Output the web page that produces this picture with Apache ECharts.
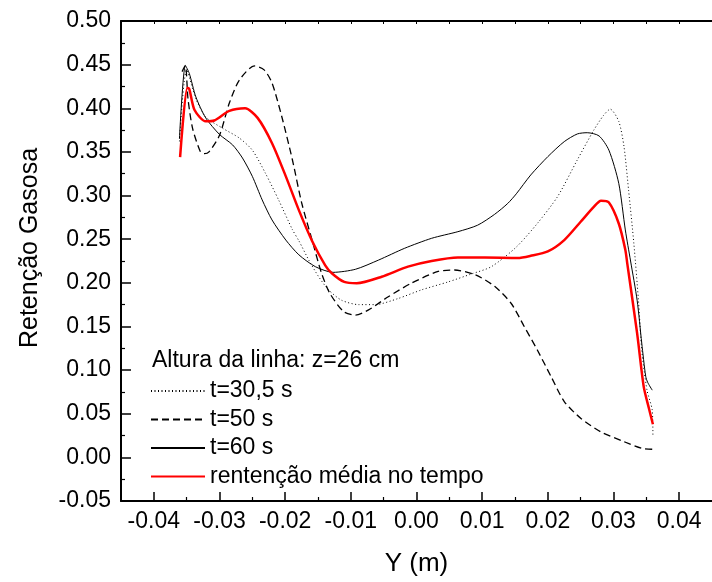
<!DOCTYPE html>
<html>
<head>
<meta charset="utf-8">
<script src="https://cdn.jsdelivr.net/npm/echarts@6/dist/echarts.min.js"></script>
<style>html,body{margin:0;padding:0;background:#fff}#c{width:712px;height:582px}</style>
</head>
<body>
<div id="c"></div>
<script>
const seriesNames = ['t=30,5 s', 't=50 s', 't=60 s', 'rentenção média no tempo'];
const legendTitle = 'Altura da linha: z=26 cm';
const xTickValues = [-0.04, -0.03, -0.02, -0.01, 0.00, 0.01, 0.02, 0.03, 0.04];
const xMinorTickValues = [-0.035, -0.025, -0.015, -0.005, 0.005, 0.015, 0.025, 0.035];

const t305X = [-0.0361,-0.0350,-0.0336,-0.0321,-0.0295,-0.0270,-0.0250,-0.0230,-0.0210,-0.0189,-0.0179,-0.0164,-0.0149,-0.0134,-0.0114,-0.0088,-0.0063,-0.0028,0.0008,0.0048,0.0083,0.0114,0.0152,0.0184,0.0215,0.0245,0.0270,0.0285,0.0295,0.0308,0.0316,0.0323,0.0331,0.0338,0.0343,0.0351,0.0359,0.0360];
const t305Y = [0.362,0.444,0.411,0.390,0.377,0.366,0.352,0.3255,0.295,0.261,0.248,0.226,0.207,0.192,0.180,0.175,0.175,0.182,0.192,0.201,0.210,0.2185,0.241,0.268,0.299,0.341,0.375,0.392,0.399,0.385,0.356,0.306,0.245,0.180,0.123,0.077,0.054,0.026];

const t50X = [-0.0357,-0.0352,-0.0348,-0.0341,-0.0329,-0.0323,-0.0316,-0.0300,-0.0285,-0.0270,-0.0247,-0.0232,-0.0220,-0.0205,-0.0189,-0.0175,-0.0159,-0.0145,-0.0132,-0.0111,-0.0093,-0.0073,-0.0043,-0.0008,0.0033,0.0058,0.0090,0.0119,0.0144,0.0164,0.0184,0.0205,0.0225,0.0250,0.0280,0.0316,0.0343,0.0359];
const t50Y = [0.442,0.449,0.411,0.377,0.350,0.348,0.350,0.369,0.406,0.432,0.4485,0.444,0.429,0.390,0.341,0.292,0.249,0.212,0.188,0.167,0.163,0.169,0.184,0.1995,0.213,0.2147,0.209,0.196,0.1766,0.150,0.123,0.0925,0.064,0.0448,0.0295,0.018,0.0104,0.0093];

const t60X = [-0.0361,-0.0352,-0.0346,-0.0336,-0.0321,-0.0300,-0.0280,-0.0265,-0.0250,-0.0235,-0.0220,-0.0199,-0.0179,-0.0154,-0.0127,-0.0093,-0.0058,-0.0018,0.0023,0.0063,0.0093,0.0119,0.0139,0.0152,0.0174,0.0200,0.0225,0.0245,0.0260,0.0278,0.0293,0.0308,0.0318,0.0326,0.0336,0.0343,0.0349,0.0352,0.0359];
const t60Y = [0.365,0.449,0.440,0.413,0.389,0.370,0.358,0.343,0.322,0.295,0.272,0.249,0.232,0.2185,0.212,0.2155,0.226,0.2396,0.251,0.2586,0.266,0.2785,0.291,0.302,0.3236,0.3446,0.3618,0.3706,0.372,0.3683,0.352,0.314,0.2606,0.225,0.180,0.131,0.093,0.086,0.077];

const avgX = [-0.0360,-0.0349,-0.0346,-0.0338,-0.0321,-0.0308,-0.0285,-0.0261,-0.0242,-0.0220,-0.0199,-0.0179,-0.0159,-0.0139,-0.0129,-0.0110,-0.0091,-0.0053,-0.0013,0.0023,0.0063,0.0104,0.0154,0.0174,0.0200,0.0225,0.0250,0.0270,0.0281,0.0293,0.0308,0.0318,0.0321,0.0336,0.0346,0.0354,0.0360];
const avgY = [0.344,0.4236,0.422,0.398,0.385,0.386,0.397,0.400,0.389,0.360,0.322,0.283,0.248,0.220,0.211,0.201,0.1995,0.207,0.2185,0.225,0.229,0.229,0.2285,0.231,0.236,0.249,0.270,0.287,0.294,0.292,0.268,0.238,0.222,0.142,0.081,0.056,0.038];

function zip(xs, ys) { return xs.map((x, i) => [x, ys[i]]); }

const FONT = 'Liberation Sans, Arial, sans-serif';
const chart = echarts.init(document.getElementById('c'), null, {renderer: 'canvas'});
const fmt2 = v => (Math.abs(v) < 1e-9 ? 0 : v).toFixed(2);

chart.setOption({
  animation: false,
  backgroundColor: '#fff',
  grid: {left: 121, top: 21, width: 594, height: 480, containLabel: false},
  xAxis: [
    {
      type: 'value', position: 'bottom', min: -0.045, max: 0.045,
      name: 'Y (m)', nameLocation: 'middle', nameGap: 50,
      nameTextStyle: {fontFamily: FONT, fontSize: 26, color: '#000'},
      axisLine: {show: true, onZero: false, lineStyle: {color: '#000', width: 2}},
      axisTick: {show: true, inside: true, length: 9, customValues: xTickValues, lineStyle: {color: '#000', width: 1.5}},
      axisLabel: {show: true, customValues: xTickValues, formatter: fmt2, margin: 9, fontFamily: FONT, fontSize: 23, color: '#000'},
      splitLine: {show: false}
    },
    {
      type: 'value', position: 'bottom', min: -0.045, max: 0.045,
      axisLine: {show: false, onZero: false},
      axisTick: {show: true, inside: true, length: 4, customValues: xMinorTickValues, lineStyle: {color: '#000', width: 1.2}},
      axisLabel: {show: false},
      splitLine: {show: false}
    },
    {
      type: 'value', position: 'top', min: -0.045, max: 0.045,
      axisLine: {show: true, onZero: false, lineStyle: {color: '#000', width: 2}},
      axisTick: {show: true, inside: true, length: 3, customValues: xTickValues.concat(xMinorTickValues), lineStyle: {color: '#000', width: 1}},
      axisLabel: {show: false},
      splitLine: {show: false}
    }
  ],
  yAxis: {
    type: 'value', min: -0.05, max: 0.5, interval: 0.05,
    axisLine: {show: true, onZero: false, lineStyle: {color: '#000', width: 2}},
    axisTick: {show: true, inside: true, length: 10, lineStyle: {color: '#000', width: 1.5}},
    minorTick: {show: true, splitNumber: 2, length: 4, lineStyle: {color: '#000', width: 1.2}},
    axisLabel: {formatter: fmt2, margin: 10, fontFamily: FONT, fontSize: 23, color: '#000'},
    splitLine: {show: false}
  },
  legend: {
    show: true, orient: 'vertical', left: 150, top: 379, padding: 0,
    itemWidth: 54, itemHeight: 14, itemGap: 4.5,
    data: seriesNames,
    itemStyle: {opacity: 0},
    textStyle: {fontFamily: FONT, fontSize: 23, color: '#000', lineHeight: 24},
    inactiveColor: '#000'
  },
  graphic: [
    {
      type: 'text', x: 152, y: 361,
      style: {text: legendTitle, font: '23px ' + FONT, fill: '#000', textVerticalAlign: 'middle'}
    },
    {
      type: 'text', x: 30, y: 248, rotation: Math.PI / 2,
      style: {text: 'Retenção Gasosa', font: '25px ' + FONT, fill: '#000', textAlign: 'center', textVerticalAlign: 'middle'}
    }
  ],
  series: [
    {name: seriesNames[0], type: 'line', data: zip(t305X, t305Y), symbol: 'none', smooth: 0.25,
     lineStyle: {color: '#000', width: 1, type: [1, 2.5]}, itemStyle: {color: '#000'}},
    {name: seriesNames[1], type: 'line', data: zip(t50X, t50Y), symbol: 'none', smooth: 0.25,
     lineStyle: {color: '#000', width: 1.3, type: [7, 4]}, itemStyle: {color: '#000'}},
    {name: seriesNames[2], type: 'line', data: zip(t60X, t60Y), symbol: 'none', smooth: 0.25,
     lineStyle: {color: '#000', width: 1}, itemStyle: {color: '#000'}},
    {name: seriesNames[3], type: 'line', data: zip(avgX, avgY), symbol: 'none', smooth: 0.25,
     lineStyle: {color: '#ff0000', width: 2.5}, itemStyle: {color: '#ff0000'}}
  ]
});
</script>
</body>
</html>
